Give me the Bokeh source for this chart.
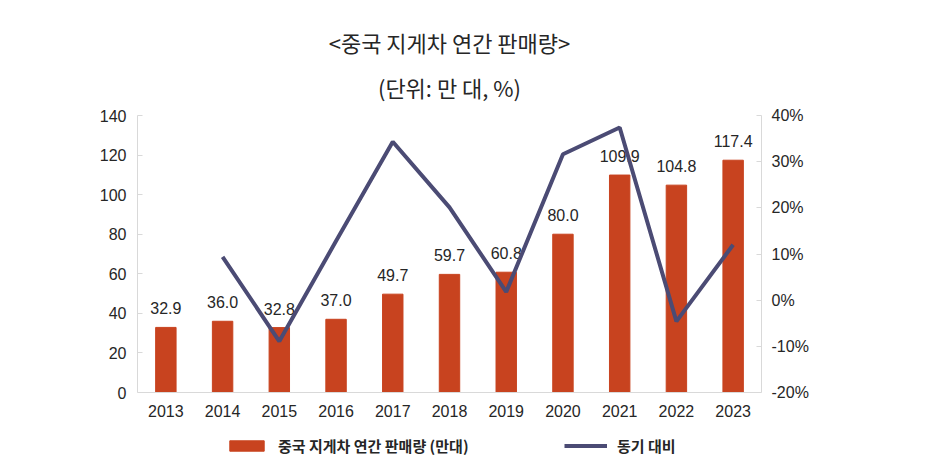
from bokeh.plotting import figure
from bokeh.models import (ColumnDataSource, Range1d, LinearAxis, Legend, LegendItem,
                          PrintfTickFormatter, Title, FixedTicker)
from bokeh.embed import file_html
from bokeh.resources import INLINE

years = ["2013", "2014", "2015", "2016", "2017", "2018", "2019", "2020", "2021", "2022", "2023"]
sales = [32.9, 36.0, 32.8, 37.0, 49.7, 59.7, 60.8, 80.0, 109.9, 104.8, 117.4]
yoy_years = ["2014", "2015", "2016", "2017", "2018", "2019", "2020", "2021", "2022", "2023"]
yoy = [9.4, -8.9, 12.8, 34.3, 20.1, 1.8, 31.6, 37.4, -4.6, 12.0]
left_ticks = [0, 20, 40, 60, 80, 100, 120, 140]
right_ticks = [-20, -10, 0, 10, 20, 30, 40]

title_text = "<중국 지게차 연간 판매량>"
subtitle_text = "(단위: 만 대, %)"
bar_name = "중국 지게차 연간 판매량 (만대)"
line_name = "동기 대비"

BAR = "#C8431F"
LINE = "#4B4B74"
TXT = "#262626"
AX = "#D9D9D9"
FONT = "Liberation Sans"
KFONT = "Noto Sans CJK KR"

# frame extends below the value axes so the legend can sit inside it
p = figure(width=918, height=459, x_range=years, y_range=Range1d(-33.86, 140),
           output_backend="svg", toolbar_location=None,
           min_border_left=137, min_border_right=157, min_border_top=115, min_border_bottom=0)
p.title = None
p.outline_line_color = None
p.xgrid.grid_line_color = None
p.ygrid.grid_line_color = None
p.extra_y_ranges = {"pct": Range1d(-34.51, 40)}

src = ColumnDataSource(dict(x=years, y=sales, lab=["%.1f" % v for v in sales]))
bars = p.vbar(x="x", top="y", width=0.36, color=BAR, source=src)
p.text(x="x", y="y", text="lab", source=src, text_align="center", text_baseline="middle",
       y_offset=-19, text_font_size="16px", text_color=TXT, text_font={"value": FONT})
lsrc = ColumnDataSource(dict(x=yoy_years, y=yoy))
ln = p.line(x="x", y="y", source=lsrc, y_range_name="pct", line_color=LINE, line_width=4)

for ax in [p.yaxis[0], p.xaxis[0]]:
    ax.axis_line_color = AX
    ax.major_tick_line_color = AX
    ax.major_tick_in = 5
    ax.major_tick_out = 0
    ax.minor_tick_line_color = None
    ax.major_label_text_font_size = "16px"
    ax.major_label_text_color = TXT
    ax.major_label_text_font = FONT
p.yaxis[0].ticker = FixedTicker(ticks=left_ticks)
p.yaxis[0].bounds = (0, 140)
p.yaxis[0].major_label_standoff = 11
p.xaxis[0].fixed_location = 0
p.xaxis[0].major_tick_line_color = None
p.xaxis[0].major_label_standoff = 12

rax = LinearAxis(y_range_name="pct", ticker=FixedTicker(ticks=right_ticks),
                 formatter=PrintfTickFormatter(format="%d%%"), bounds=(-20, 40))
rax.axis_line_color = AX
rax.major_tick_line_color = AX
rax.major_tick_in = 5
rax.major_tick_out = 0
rax.minor_tick_line_color = None
rax.major_label_text_font_size = "16px"
rax.major_label_text_color = TXT
rax.major_label_text_font = FONT
rax.major_label_standoff = 10
p.add_layout(rax, "right")

leg_style = dict(orientation="horizontal", glyph_width=43, glyph_height=13, label_standoff=10,
                 label_text_font=KFONT, label_text_font_style="bold",
                 label_text_font_size="15px", label_text_color=TXT,
                 border_line_color=None, background_fill_alpha=0, margin=0, padding=4)
leg1 = Legend(items=[LegendItem(label=bar_name, renderers=[bars])], location=(88, 3), **leg_style)
leg2 = Legend(items=[LegendItem(label=line_name, renderers=[ln])], location=(427, 3), **leg_style)
p.add_layout(leg1, "center")
p.add_layout(leg2, "center")

p.add_layout(Title(text=subtitle_text, align="center", text_font=KFONT, text_font_size="22px",
                   text_font_style="normal", text_color=TXT, standoff=26), "above")
p.add_layout(Title(text=title_text, align="center", text_font=KFONT, text_font_size="22px",
                   text_font_style="normal", text_color=TXT, standoff=-5), "above")

open("out.html", "w").write(file_html(p, INLINE))
